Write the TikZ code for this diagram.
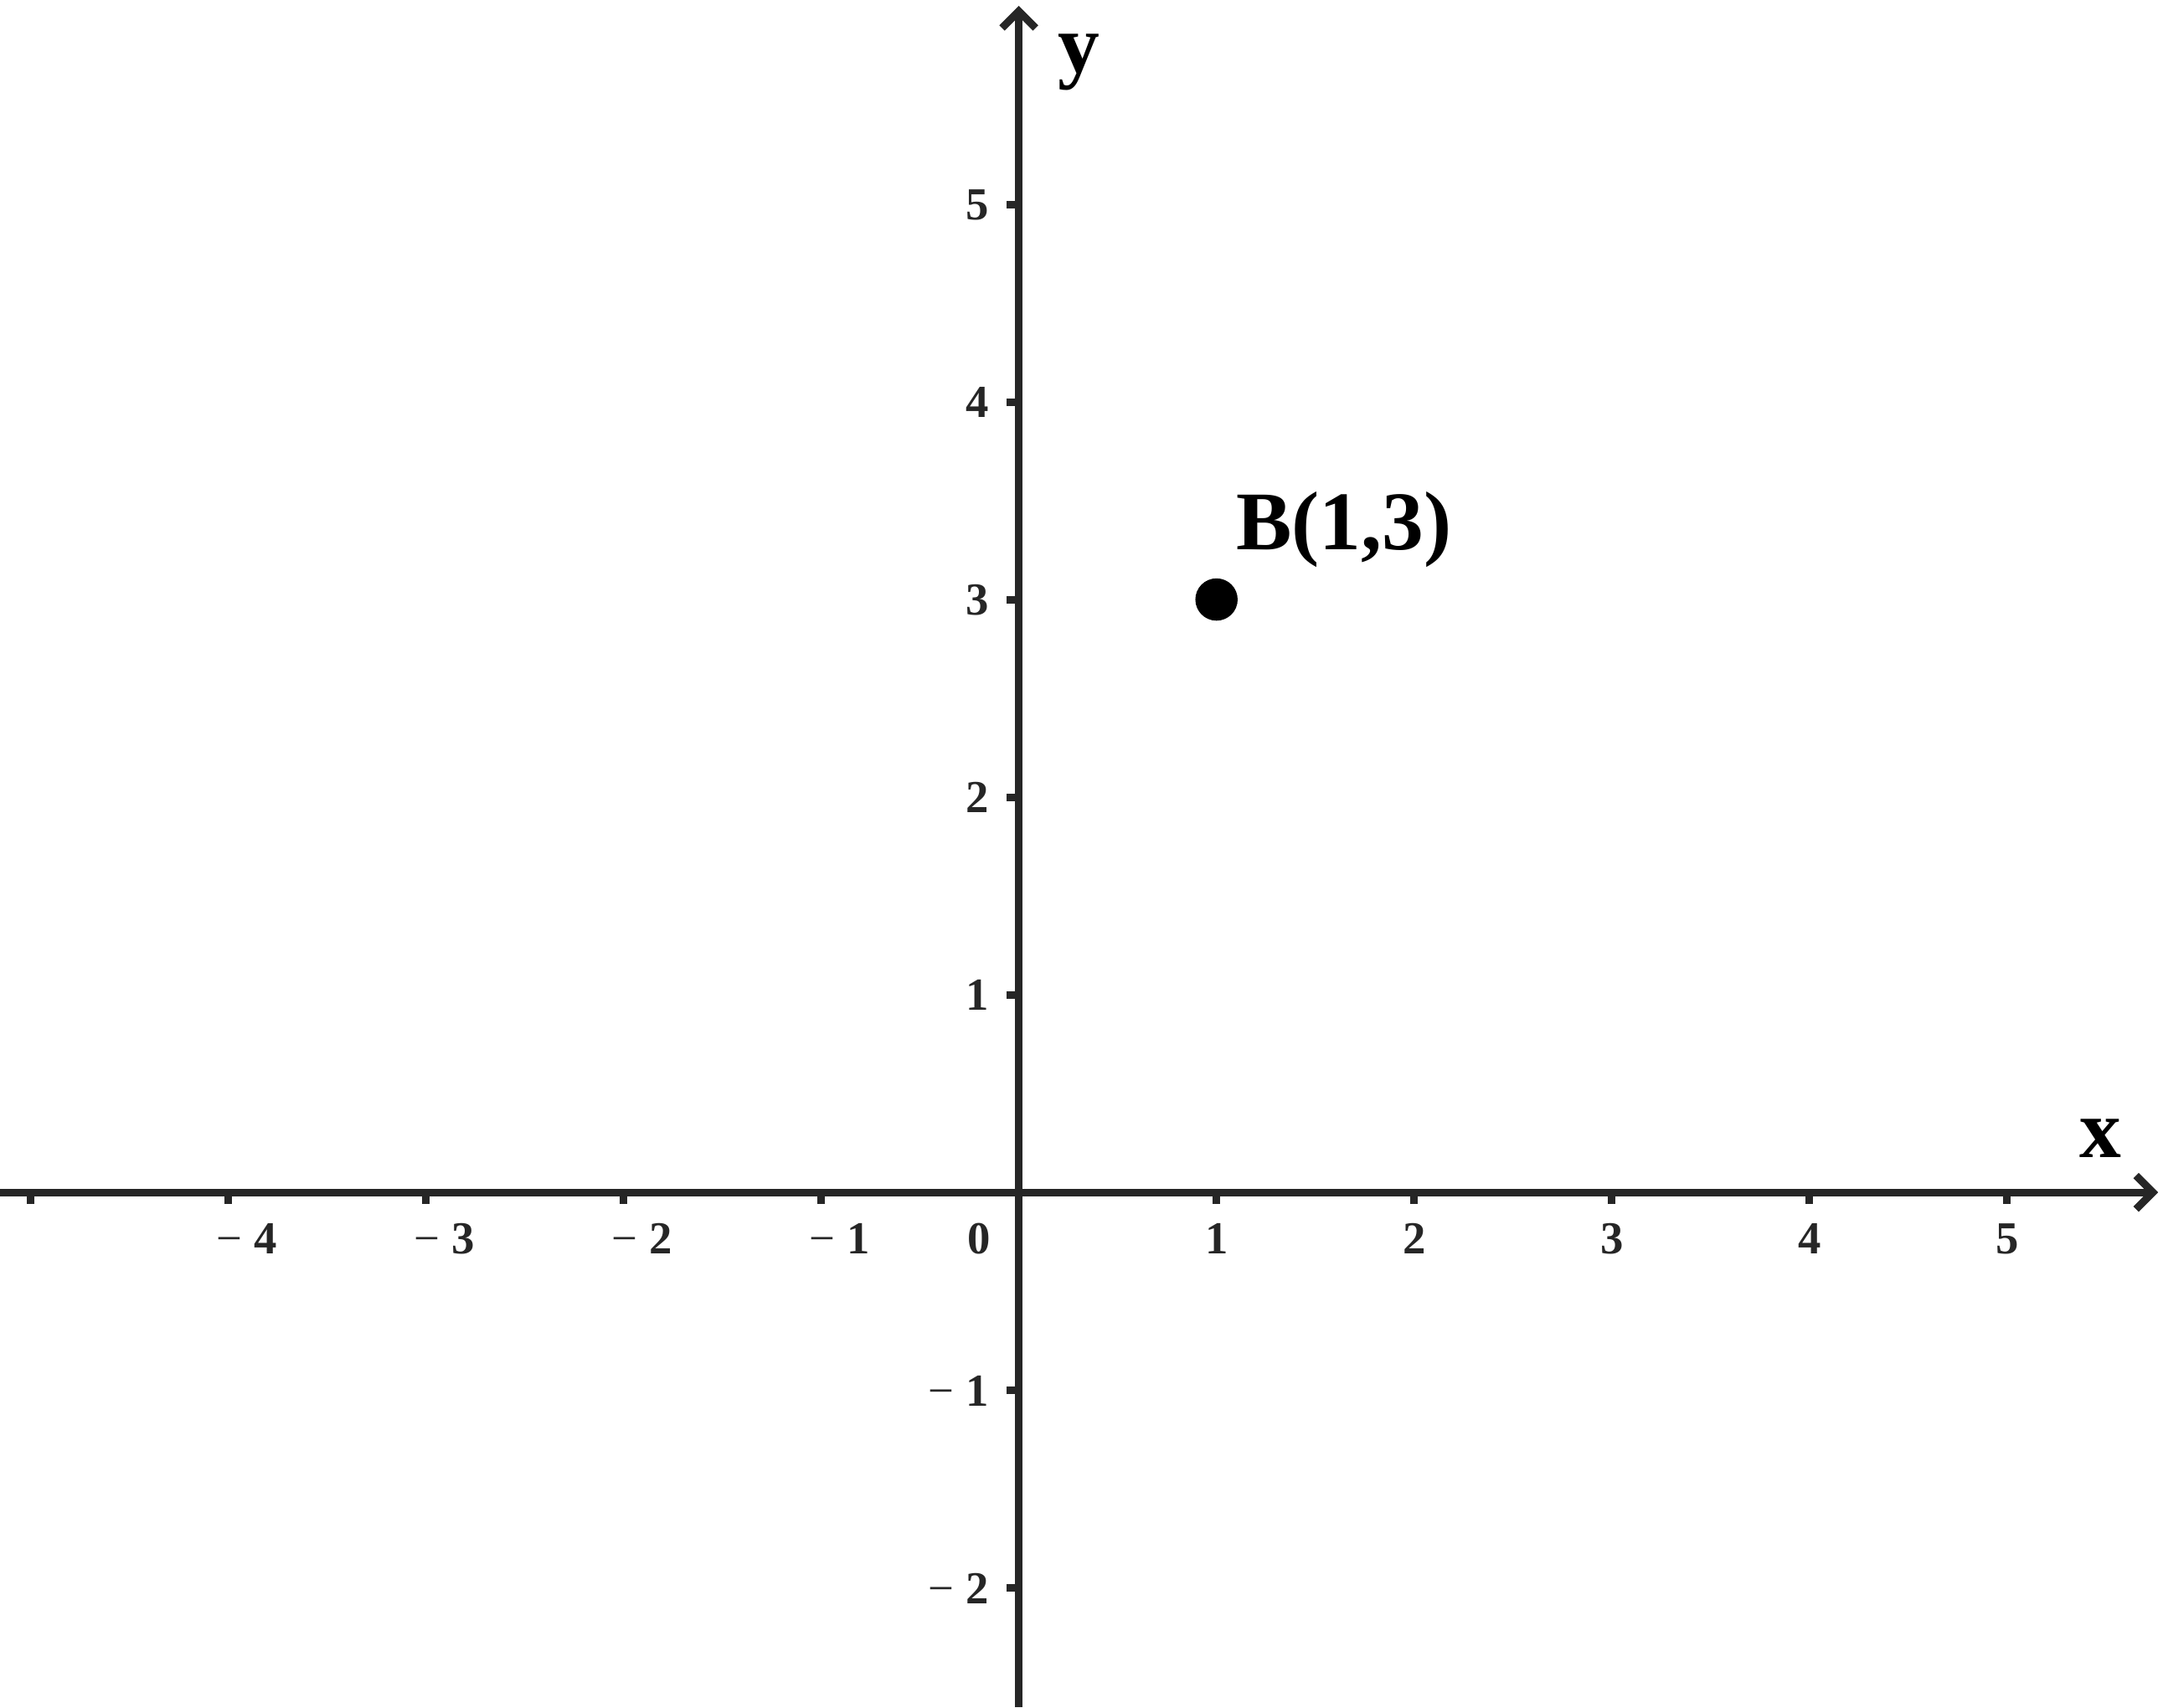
\documentclass[tikz,border=0pt]{standalone}
\usepackage{fontspec}
\setmainfont{Liberation Serif}
\definecolor{axisgray}{HTML}{262626}
\tikzset{
  axisline/.style={line width=1.085pt, draw=axisgray},
  tickline/.style={line width=1.085pt, draw=axisgray},
  ticklab/.style={font=\fontsize{6.6}{7}\selectfont\bfseries, text=axisgray, inner sep=0pt},
  biglab/.style={font=\fontsize{12}{14}\selectfont\bfseries, text=black, inner sep=0pt},
  dotpt/.style={circle, fill=black, minimum size=0.214cm, inner sep=0pt},
}
\begin{document}
\begin{tikzpicture}
\useasboundingbox (-5.155,-2.606) rectangle (5.789,6.034);
% axes
\draw[axisline] (-5.155,0) -- (5.737,0);
\draw[axisline] (0,-2.606) -- (0,5.977);
\draw[axisline, line join=miter] (5.652,0.085) -- (5.737,0) -- (5.652,-0.085);
\draw[axisline, line join=miter] (-0.085,5.892) -- (0,5.977) -- (0.085,5.892);
% ticks
\foreach \k in {-5,-4,-3,-2,-1,1,2,3,4,5}
  \draw[tickline] (\k,0) -- (\k,-0.059);
\foreach \k in {-2,-1,1,2,3,4,5}
  \draw[tickline] (0,\k) -- (-0.064,\k);
% x tick labels
\foreach \k in {1,...,5}
  \node[ticklab, anchor=base] (xl\k) at (\k,-0.309) {\k};
\foreach \k in {1,...,4}
  \node[ticklab, anchor=base] (xm\k) at (-\k+0.093,-0.309) {{\mdseries −} \k};
\node[ticklab, anchor=base] (xzero) at (-0.203,-0.309) {0};
% y tick labels
\foreach \k in {1,...,5}
  \node[ticklab, anchor=base east] (yl\k) at (-0.145,\k-0.08) {\k};
\foreach \k in {1,2}
  \node[ticklab, anchor=base east] (ym\k) at (-0.145,-\k-0.08) {{\mdseries −} \k};
% axis names
\node[biglab, anchor=base] (xlab) at (5.474,0.178) {x};
\node[biglab, anchor=base] (ylab) at (0.302,5.669) {y};
% point
\node[dotpt] (B) at (1,3) {};
\node[biglab, anchor=base west] (Blab) at (1.092,3.251) {B(1,3)};
\end{tikzpicture}
\end{document}
